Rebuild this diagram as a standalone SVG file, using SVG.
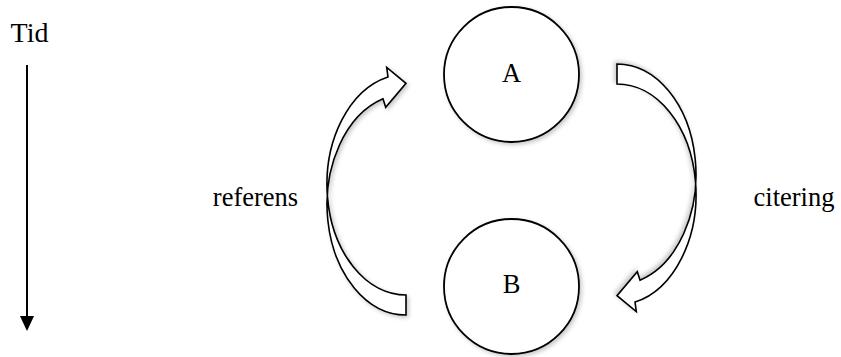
<svg xmlns="http://www.w3.org/2000/svg" width="841" height="357" viewBox="0 0 841 357">
  <style>
    .lbl { font-family: "Liberation Serif", "Times New Roman", serif; font-size: 26.5px; fill: #000; text-anchor: middle; }
    .node { fill: #fff; stroke: #000; stroke-width: 1.8; filter: url(#shadow); }
    .carrow { fill: #fff; stroke: #000; stroke-width: 1.6; stroke-linejoin: miter; filter: url(#shadow); }
  </style>
  <defs>
    <filter id="shadow" x="-20%" y="-20%" width="140%" height="140%">
      <feDropShadow dx="2" dy="2" stdDeviation="2.2" flood-color="#000" flood-opacity="0.22"/>
    </filter>
    <marker id="ah" markerWidth="15" markerHeight="16" refX="0" refY="7.5" orient="auto" markerUnits="userSpaceOnUse" viewBox="0 0 16 15">
      <path d="M0,0 L16,7.5 L0,15 Z" fill="#000"/>
    </marker>
  </defs>
  <rect width="841" height="357" fill="#fff"/>

  <g id="time">
    <text class="lbl" x="29.5" y="42" style="font-size:28px">Tid</text>
  </g>

  <g id="connectors">
    <line x1="27" y1="65" x2="27" y2="316" stroke="#000" stroke-width="2" marker-end="url(#ah)"/>
    <path id="referens-arrow" class="carrow" d="M406,295 A79,110.5 0 0 1 388,76.9 L386.7,67.3 L406,83.3 L385.7,107.3 L383,98.8 A79,110.5 0 0 0 406,315 Z"/>
    <path id="citering-arrow" class="carrow" transform="rotate(180 511.5 189.5)" d="M406,295 A79,110.5 0 0 1 388,76.9 L386.7,67.3 L406,83.3 L385.7,107.3 L383,98.8 A79,110.5 0 0 0 406,315 Z"/>
  </g>

  <g id="A">
    <circle class="node" cx="511.5" cy="74.5" r="67.5"/>
    <text class="lbl" x="511.5" y="81.7">A</text>
  </g>
  <g id="B">
    <circle class="node" cx="511.5" cy="286.5" r="67.5"/>
    <text class="lbl" x="511.5" y="292.7">B</text>
  </g>

  <g id="labels">
    <text class="lbl" x="255.5" y="205.7">referens</text>
    <text class="lbl" x="794" y="205.7">citering</text>
  </g>
</svg>
